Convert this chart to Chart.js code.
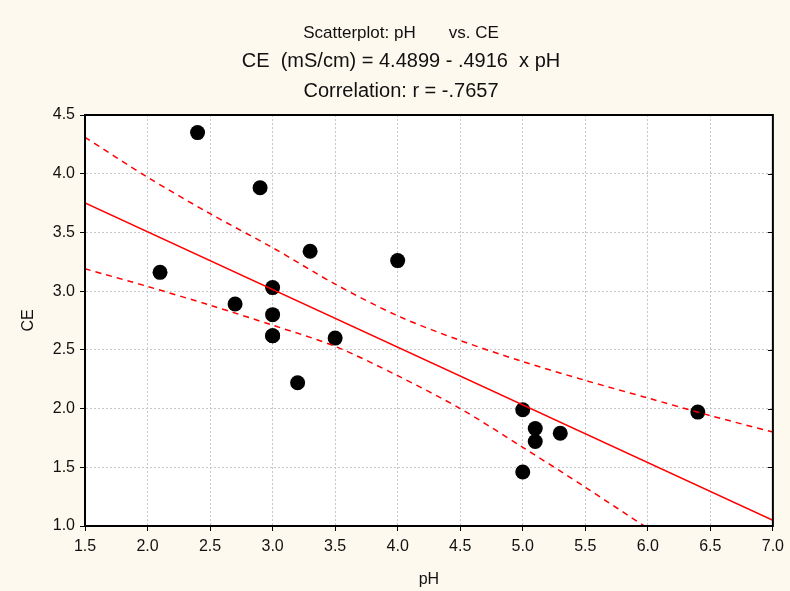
<!DOCTYPE html>
<html>
  <head>
    <title>Scatterplot: pH vs. CE</title>
    <script src="https://cdn.jsdelivr.net/npm/chart.js"></script>
    <style>
      body {
        margin: 0;
        background: #fdf9ee;
        font-family: "Liberation Sans", Arial, sans-serif;
      }
      #chart {
        display: block;
      }
    </style>
  </head>
  <body>
    <canvas id="chart" width="790" height="591"></canvas>
    <script>
      const phValues = [2.1, 2.4, 2.7, 2.9, 3.0, 3.0, 3.0, 3.0, 3.2, 3.3, 3.5, 4.0, 5.0, 5.0, 5.1, 5.1, 5.3, 6.4];
      const ceValues = [3.16, 4.35, 2.89, 3.88, 3.03, 2.80, 2.62, 2.62, 2.22, 3.34, 2.60, 3.26, 1.99, 1.46, 1.83, 1.72, 1.79, 1.97];

      // Fitted line end points
      const fitX = [1.5, 7.0];
      const fitY = [3.752, 1.049];

      // 95% confidence band, read at the grid lines
      const bandX = [1.5, 2.0, 2.5, 3.0, 3.5, 4.0, 4.5, 5.0, 5.5, 6.0, 6.5, 7.0];
      const bandUpper = [4.31, 3.97, 3.66, 3.37, 3.06, 2.79, 2.58, 2.40, 2.24, 2.09, 1.94, 1.80];
      const bandLower = [3.19, 3.04, 2.88, 2.71, 2.53, 2.28, 2.00, 1.67, 1.33, 0.98];

      const titleLines = [
        { text: 'Scatterplot: pH       vs. CE', size: 17, y: 33 },
        { text: 'CE  (mS/cm) = 4.4899 - .4916  x pH', size: 20, y: 61 },
        { text: 'Correlation: r = -.7657', size: 20, y: 91 }
      ];

      const toPoints = (xs, ys) => ys.map((y, i) => ({ x: xs[i], y: y }));

      const FONT = '"Liberation Sans", Arial, sans-serif';
      const cream = '#fdf9ee';

      // Background, plot frame, right-side ticks and the title block
      const decor = {
        id: 'decor',
        beforeDraw(chart) {
          const { ctx, chartArea: a } = chart;
          ctx.save();
          ctx.fillStyle = cream;
          ctx.fillRect(0, 0, chart.width, chart.height);
          ctx.fillStyle = '#ffffff';
          ctx.fillRect(a.left, a.top, a.right - a.left, a.bottom - a.top);
          ctx.restore();
        },
        afterDraw(chart) {
          const { ctx, chartArea: a } = chart;
          ctx.save();
          ctx.strokeStyle = '#000';
          ctx.lineWidth = 2;
          ctx.strokeRect(a.left, a.top, a.right - a.left, a.bottom - a.top);
          ctx.lineWidth = 1;
          const ys = chart.scales.y;
          ys.ticks.forEach(t => {
            const py = Math.round(ys.getPixelForValue(t.value)) + 0.5;
            ctx.beginPath();
            ctx.moveTo(a.right, py);
            ctx.lineTo(a.right - 5, py);
            ctx.stroke();
          });
          ctx.fillStyle = '#111';
          ctx.textAlign = 'center';
          ctx.textBaseline = 'middle';
          titleLines.forEach(l => {
            ctx.font = l.size + 'px ' + FONT;
            ctx.fillText(l.text, 401, l.y);
          });
          ctx.restore();
        }
      };

      const axisCommon = {
        type: 'linear',
        grid: {
          color: '#c8c8c8',
          lineWidth: 1,
          tickColor: '#000',
          tickLength: 5
        },
        border: { color: '#000', width: 2, dash: [2, 2] },
        ticks: {
          stepSize: 0.5,
          color: '#111',
          font: { family: FONT, size: 16 },
          callback: v => v.toFixed(1)
        }
      };

      new Chart(document.getElementById('chart'), {
        type: 'scatter',
        data: {
          datasets: [
            {
              data: toPoints(fitX, fitY),
              showLine: true,
              borderColor: '#ff0000',
              borderWidth: 1.5,
              pointRadius: 0
            },
            {
              data: toPoints(bandX, bandUpper),
              showLine: true,
              borderColor: '#ff0000',
              borderWidth: 1.5,
              borderDash: [6, 5],
              tension: 0.3,
              pointRadius: 0
            },
            {
              data: toPoints(bandX, bandLower),
              showLine: true,
              borderColor: '#ff0000',
              borderWidth: 1.5,
              borderDash: [6, 5],
              tension: 0.3,
              pointRadius: 0
            },
            {
              data: toPoints(phValues, ceValues),
              backgroundColor: '#000',
              borderWidth: 0,
              pointRadius: 7.5
            }
          ]
        },
        options: {
          responsive: false,
          animation: false,
          layout: { padding: { top: 115, right: 17, left: 15, bottom: 2 } },
          plugins: {
            legend: { display: false },
            tooltip: { enabled: false }
          },
          scales: {
            x: Object.assign({}, axisCommon, {
              min: 1.5,
              max: 7.0,
              ticks: Object.assign({}, axisCommon.ticks, { padding: 6 }),
              title: { display: true, text: 'pH', color: '#111', padding: 0, font: { family: FONT, size: 16 } },
              afterFit(scale) { scale.height = 63; }
            }),
            y: Object.assign({}, axisCommon, {
              min: 1.0,
              max: 4.5,
              ticks: Object.assign({}, axisCommon.ticks, { padding: 5 }),
              title: { display: true, text: 'CE', color: '#111', font: { family: FONT, size: 16 } },
              afterFit(scale) { scale.width = 70; }
            })
          }
        },
        plugins: [decor]
      });
    </script>
  </body>
</html>
